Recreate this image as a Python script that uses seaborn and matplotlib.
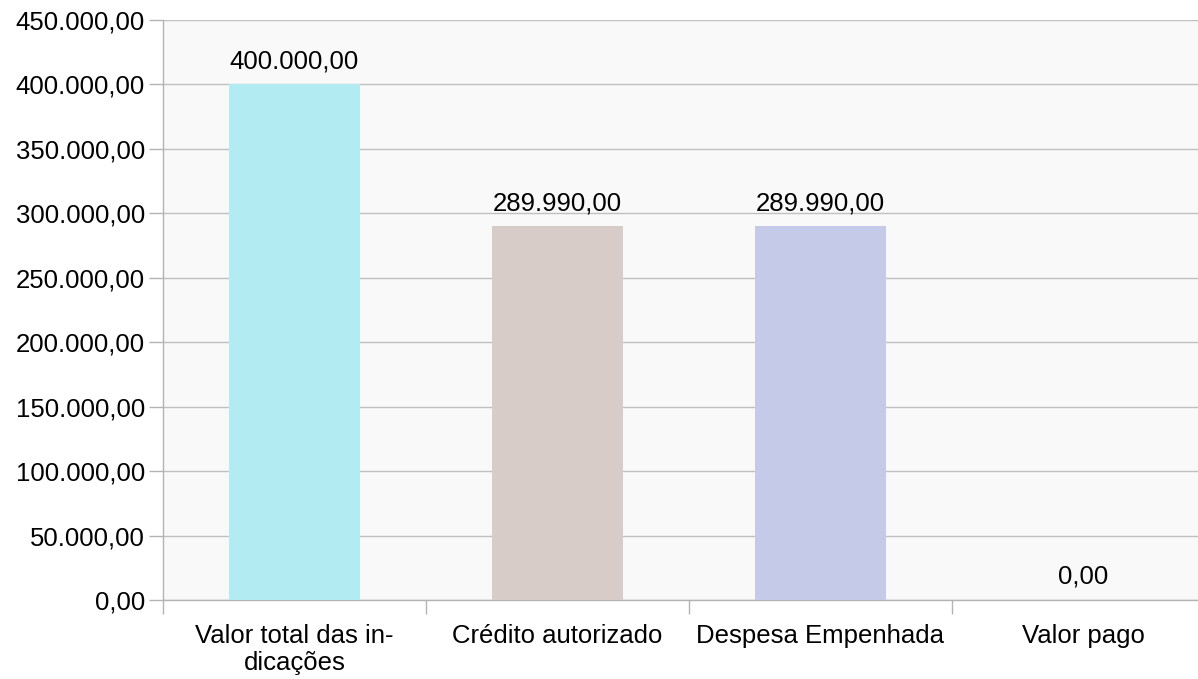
import numpy as np
import pandas as pd
import matplotlib.pyplot as plt
import seaborn as sns
from matplotlib.ticker import FuncFormatter, FixedLocator

categorias = ['Valor total das in-\ndicações', 'Crédito autorizado', 'Despesa Empenhada', 'Valor pago']
valores = [400000.00, 289990.00, 289990.00, 0.00]
cores = ['#b2ebf2', '#d7ccc8', '#c5cae9', '#bbdefb']

df = pd.DataFrame({'categoria': categorias, 'valor': valores})

sns.set_style('white')
plt.rcParams['font.family'] = ['Liberation Sans', 'DejaVu Sans']


def br(v, pos=None):
    s = f'{v:,.2f}'
    return s.replace(',', 'X').replace('.', ',').replace('X', '.')


fig = plt.figure(figsize=(11.98, 6.79), dpi=100)
ax = fig.add_axes([0.136, 0.1163, 0.878, 0.8542])
ax.set_facecolor('#f9f9f9')

sns.barplot(data=df, x='categoria', y='valor', hue='categoria', palette=cores,
            width=0.5, legend=False, ax=ax, zorder=3, saturation=1, linewidth=0)

ax.set_ylim(0, 450000)
ax.set_xlim(-0.5, 3.5)
ax.set_yticks(np.arange(0, 450001, 50000))
ax.yaxis.set_major_formatter(FuncFormatter(br))
ax.grid(axis='y', color='#c0c0c0', linewidth=1, zorder=0)
ax.set_axisbelow(True)

# tick marks between categories
ax.xaxis.set_minor_locator(FixedLocator([-0.5, 0.5, 1.5, 2.5]))
ax.tick_params(axis='x', which='major', bottom=True, length=0, labelsize=18.5,
               labelcolor='black', pad=17)
ax.tick_params(axis='x', which='minor', bottom=True, length=10, color='#b3b3b3', width=1)
ax.tick_params(axis='y', left=True, length=10, color='#b3b3b3', width=1, labelsize=18.5,
               labelcolor='black', pad=3)

for side in ['top', 'right']:
    ax.spines[side].set_visible(False)
for side in ['left', 'bottom']:
    ax.spines[side].set_color('#b3b3b3')
    ax.spines[side].set_linewidth(1)

for i, v in enumerate(valores):
    ax.annotate(br(v), (i, v), xytext=(0, 8), textcoords='offset points',
                ha='center', va='bottom', fontsize=18.5, color='black')

ax.set_xlabel('')
ax.set_ylabel('')
fig.savefig('out.png', dpi=100)
